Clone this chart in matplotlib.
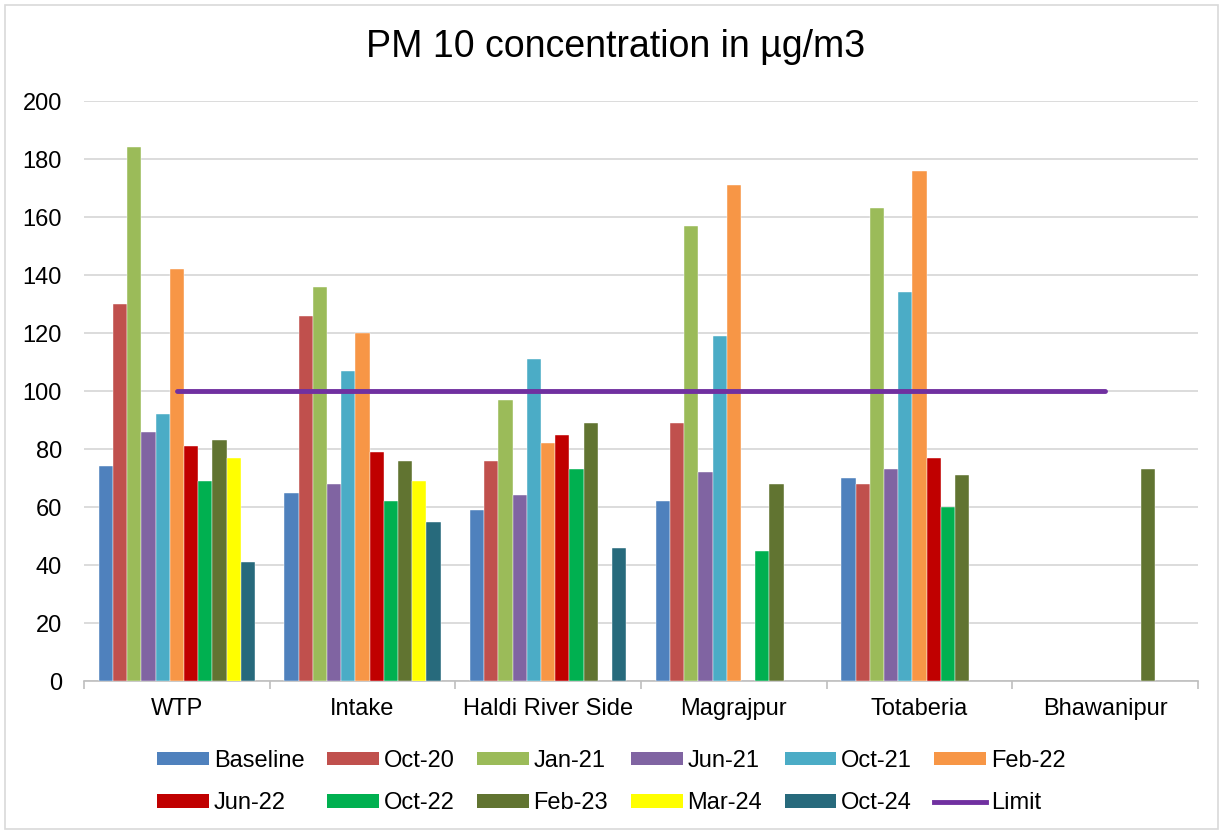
import numpy as np
import matplotlib
matplotlib.use("Agg")
import matplotlib.pyplot as plt
from matplotlib.patches import Patch, Rectangle
from matplotlib.lines import Line2D

plt.rcParams['font.family'] = ['Liberation Sans', 'DejaVu Sans']

nan = np.nan

# Sampling locations
sites = ["WTP", "Intake", "Haldi River Side", "Magrajpur", "Totaberia", "Bhawanipur"]

# PM10 values per monitoring round (ug/m3), one entry per site
baseline = [74, 65, 59, 62, 70, nan]
oct_20 = [130, 126, 76, 89, 68, nan]
jan_21 = [184, 136, 97, 157, 163, nan]
jun_21 = [86, 68, 64, 72, 73, nan]
oct_21 = [92, 107, 111, 119, 134, nan]
feb_22 = [142, 120, 82, 171, 176, nan]
jun_22 = [81, 79, 85, nan, 77, nan]
oct_22 = [69, 62, 73, 45, 60, nan]
feb_23 = [83, 76, 89, 68, 71, 73]
mar_24 = [77, 69, nan, nan, nan, nan]
oct_24 = [41, 55, 46, nan, nan, nan]
limit = [100, 100, 100, 100, 100, 100]

rounds = ["Baseline", "Oct-20", "Jan-21", "Jun-21", "Oct-21", "Feb-22",
          "Jun-22", "Oct-22", "Feb-23", "Mar-24", "Oct-24"]
series = [baseline, oct_20, jan_21, jun_21, oct_21, feb_22,
          jun_22, oct_22, feb_23, mar_24, oct_24]
colors = ["#4F81BD", "#C0504D", "#9BBB59", "#8064A2", "#4BACC6", "#F79646",
          "#C00000", "#00B050", "#617431", "#FFFF00", "#276A7C"]
limit_color = "#7030A0"

fig = plt.figure(figsize=(12.23, 8.34), dpi=100)
ax = fig.add_axes([84/1223, 1-681/834, (1198-84)/1223, (681-101)/834])

# outer chart border like excel
fig.patches.append(Rectangle((5/1223, 5/834), 1213/1223, 824/834, transform=fig.transFigure,
                             fill=False, edgecolor="#D9D9D9", linewidth=1.2))

n = len(series)
bw = 0.0765
start = (1 - n*bw) / 2
cx = np.arange(len(sites))
for i, (vals, c) in enumerate(zip(series, colors)):
    ax.bar(cx + start + i*bw, vals, width=bw, align="edge", color=c,
           edgecolor="white", linewidth=0.3, zorder=3)

ax.plot(cx + 0.5, limit, color=limit_color, linewidth=3.5, solid_capstyle="round", zorder=4)

ax.set_xlim(0, len(sites))
ax.set_ylim(0, 200)
ax.set_yticks(np.arange(0, 201, 20))
ax.yaxis.grid(True, color="#D9D9D9", linewidth=1.3, zorder=0)
ax.set_axisbelow(True)
ax.set_xticks(cx + 0.5)
ax.set_xticklabels(sites)
ax.set_xticks(np.arange(len(sites) + 1), minor=True)
ax.tick_params(axis="x", which="major", length=0, pad=12, labelsize=17)
ax.tick_params(axis="x", which="minor", length=6, color="#BFBFBF", width=1.2)
ax.tick_params(axis="y", length=0, pad=16, labelsize=17)
for s in ["top", "right", "left"]:
    ax.spines[s].set_visible(False)
ax.spines["bottom"].set_color("#BFBFBF")
ax.spines["bottom"].set_linewidth(1.2)

fig.text(0.503, 1-47/834, "PM 10 concentration in µg/m3", ha="center", va="center", fontsize=27)

handles = [Patch(facecolor=c, label=r) for c, r in zip(colors, rounds)]
handles.append(Line2D([], [], color=limit_color, linewidth=3.5, label="Limit"))
# matplotlib fills legend columns first, reorder to get rows like excel
order = []
for k in range(6):
    order += [k, k + 6]
hs = [handles[k] for k in order]
fig.legend(handles=hs, labels=[h.get_label() for h in hs], ncol=6,
           loc="center", bbox_to_anchor=(0.5, 1-782/834), frameon=False,
           fontsize=17, handlelength=2.2, handleheight=0.5, handletextpad=0.2,
           labelspacing=0.88, columnspacing=0.95)

fig.savefig("out.png", dpi=100)
